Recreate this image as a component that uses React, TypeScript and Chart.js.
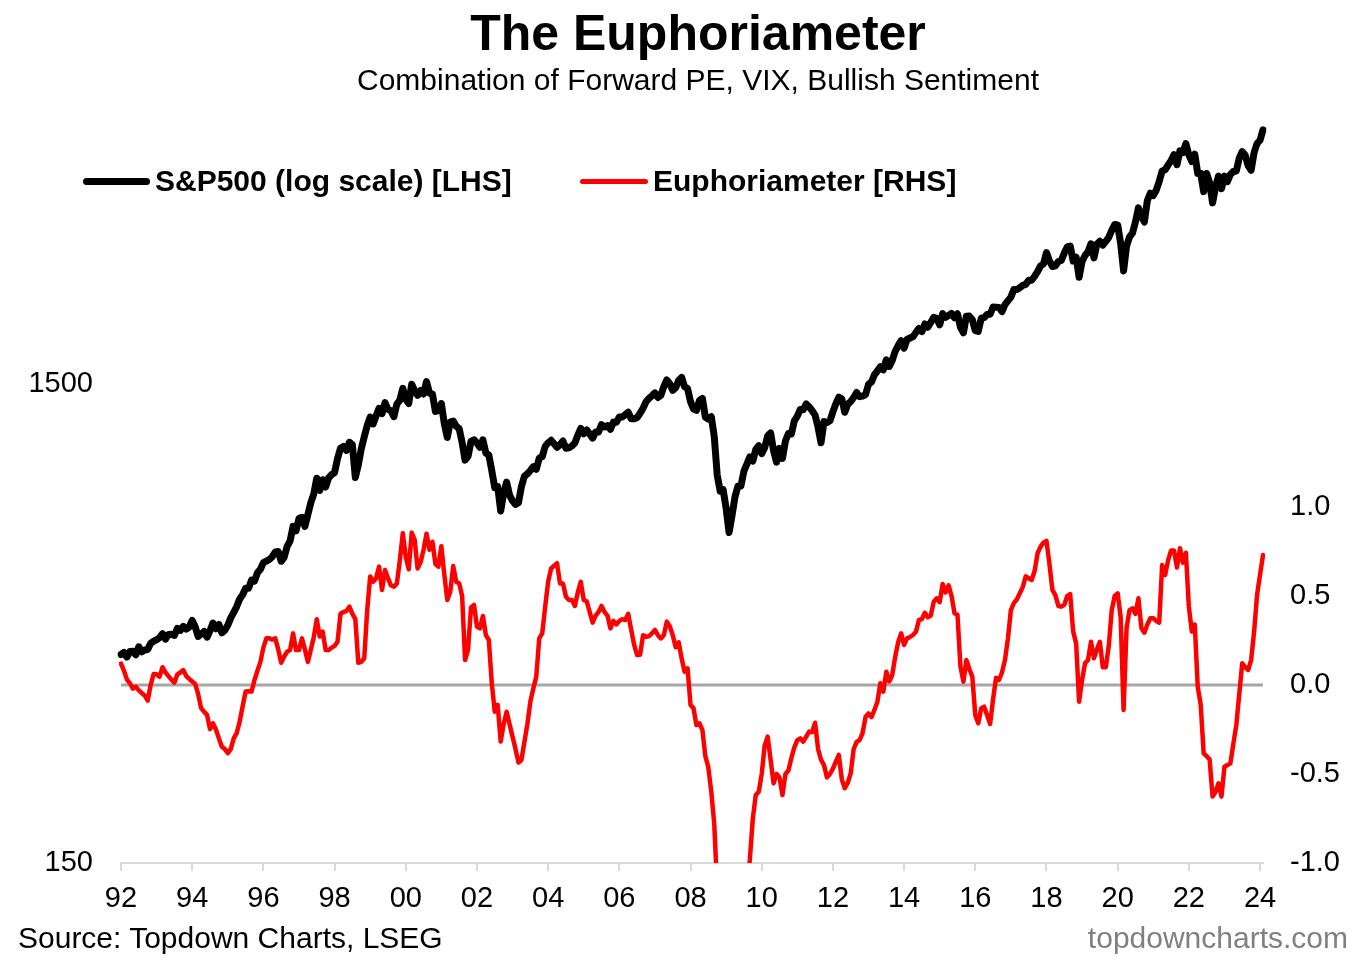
import React, { useEffect, useRef } from 'react';
import { Chart, registerables } from 'chart.js';

Chart.register(...registerables);

const FONT = '"Liberation Sans", Arial, Helvetica, sans-serif';

// S&P 500 month-end closes, Jan 1992 .. Feb 2024 (one row per year)
const spx1990s = [
  408.79, 412.70, 403.69, 414.95, 415.35, 408.14, 424.21, 414.03, 417.80, 418.68, 431.35, 435.71,
  438.78, 443.38, 451.67, 440.19, 450.19, 450.53, 448.13, 463.56, 458.93, 467.83, 461.79, 466.45,
  481.61, 467.14, 445.77, 450.91, 456.50, 444.27, 458.26, 475.49, 462.69, 472.35, 453.69, 459.27,
  470.42, 487.39, 500.71, 514.71, 533.40, 544.75, 562.06, 561.88, 584.41, 581.50, 605.37, 615.93,
  636.02, 640.43, 645.50, 654.17, 669.12, 670.63, 639.95, 651.99, 687.33, 705.27, 757.02, 740.74,
  786.16, 790.82, 757.12, 801.34, 848.28, 885.14, 954.29, 899.47, 947.28, 914.62, 955.40, 970.43,
  980.28, 1049.34, 1101.75, 1111.75, 1090.82, 1133.84, 1120.67, 957.28, 1017.01, 1098.67, 1163.63, 1229.23,
  1279.64, 1238.33, 1286.37, 1335.18, 1301.84, 1372.71, 1328.72, 1320.41, 1282.71, 1362.93, 1388.91, 1469.25,
];
const spx2000s = [
  1394.46, 1366.42, 1498.58, 1452.43, 1420.60, 1454.60, 1430.83, 1517.68, 1436.51, 1429.40, 1315.23, 1320.28,
  1366.01, 1239.94, 1160.33, 1249.46, 1255.82, 1224.42, 1211.23, 1133.58, 1040.94, 1059.78, 1139.45, 1148.08,
  1130.20, 1106.73, 1147.39, 1076.92, 1067.14, 989.82, 911.62, 916.07, 815.28, 885.76, 936.31, 879.82,
  855.70, 841.15, 848.18, 916.92, 963.59, 974.50, 990.31, 1008.01, 995.97, 1050.71, 1058.20, 1111.92,
  1131.13, 1144.94, 1126.21, 1107.30, 1120.68, 1140.84, 1101.72, 1104.24, 1114.58, 1130.20, 1173.82, 1211.92,
  1181.27, 1203.60, 1180.59, 1156.85, 1191.50, 1191.33, 1234.18, 1220.33, 1228.81, 1207.01, 1249.48, 1248.29,
  1280.08, 1280.66, 1294.87, 1310.61, 1270.09, 1270.20, 1276.66, 1303.82, 1335.85, 1377.94, 1400.63, 1418.30,
  1438.24, 1406.82, 1420.86, 1482.37, 1530.62, 1503.35, 1455.27, 1473.99, 1526.75, 1549.38, 1481.14, 1468.36,
  1378.55, 1330.63, 1322.70, 1385.59, 1400.38, 1280.00, 1267.38, 1282.83, 1166.36, 968.75, 896.24, 903.25,
  825.88, 735.09, 797.87, 872.81, 919.14, 919.32, 987.48, 1020.62, 1057.08, 1036.19, 1095.63, 1115.10,
];
const spx2010s = [
  1073.87, 1104.49, 1169.43, 1186.69, 1089.41, 1030.71, 1101.60, 1049.33, 1141.20, 1183.26, 1180.55, 1257.64,
  1286.12, 1327.22, 1325.83, 1363.61, 1345.20, 1320.64, 1292.28, 1218.89, 1131.42, 1253.30, 1246.96, 1257.60,
  1312.41, 1365.68, 1408.47, 1397.91, 1310.33, 1362.16, 1379.32, 1406.58, 1440.67, 1412.16, 1416.18, 1426.19,
  1498.11, 1514.68, 1569.19, 1597.57, 1630.74, 1606.28, 1685.73, 1632.97, 1681.55, 1756.54, 1805.81, 1848.36,
  1782.59, 1859.45, 1872.34, 1883.95, 1923.57, 1960.23, 1930.67, 2003.37, 1972.29, 2018.05, 2067.56, 2058.90,
  1994.99, 2104.50, 2067.89, 2085.51, 2107.39, 2063.11, 2103.84, 1972.18, 1920.03, 2079.36, 2080.41, 2043.94,
  1940.24, 1932.23, 2059.74, 2065.30, 2096.95, 2098.86, 2173.60, 2170.95, 2168.27, 2126.15, 2198.81, 2238.83,
  2278.87, 2363.64, 2362.72, 2384.20, 2411.80, 2423.41, 2470.30, 2471.65, 2519.36, 2575.26, 2647.58, 2673.61,
  2823.81, 2713.83, 2640.87, 2648.05, 2705.27, 2718.37, 2816.29, 2901.52, 2913.98, 2711.74, 2760.17, 2506.85,
  2704.10, 2784.49, 2834.40, 2945.83, 2752.06, 2941.76, 2980.38, 2926.46, 2976.74, 3037.56, 3140.98, 3230.78,
];
const spx2020s = [
  3225.52, 2954.22, 2584.59, 2912.43, 3044.31, 3100.29, 3271.12, 3500.31, 3363.00, 3269.96, 3621.63, 3756.07,
  3714.24, 3811.15, 3972.89, 4181.17, 4204.11, 4297.50, 4395.26, 4522.68, 4307.54, 4605.38, 4567.00, 4766.18,
  4515.55, 4373.94, 4530.41, 4131.93, 4132.15, 3785.38, 4130.29, 3955.00, 3585.62, 3871.98, 4080.11, 3839.50,
  4076.60, 3970.15, 4109.31, 4169.48, 4179.83, 4450.38, 4588.96, 4507.66, 4288.05, 4193.80, 4567.80, 4769.83,
  4845.65, 5096.27,
];

// Euphoriameter (same months)
const euph1990s = [
  0.12, 0.08, 0.03, 0.01, -0.02, -0.01, -0.03, -0.045, -0.06, -0.088, 0.0, 0.062,
  0.06, 0.047, 0.10, 0.07, 0.05, 0.03, 0.013, 0.06, 0.07, 0.084, 0.05, 0.034,
  0.02, 0.006, -0.05, -0.13, -0.15, -0.168, -0.248, -0.215, -0.25, -0.30, -0.347, -0.36,
  -0.383, -0.36, -0.30, -0.27, -0.206, -0.12, -0.037, -0.035, -0.037, 0.028, 0.08, 0.13,
  0.21, 0.262, 0.262, 0.255, 0.262, 0.20, 0.125, 0.16, 0.187, 0.196, 0.29, 0.196,
  0.196, 0.262, 0.20, 0.13, 0.20, 0.27, 0.369, 0.272, 0.30, 0.196, 0.196, 0.21,
  0.22, 0.243, 0.40, 0.41, 0.416, 0.44, 0.40, 0.37, 0.125, 0.13, 0.15, 0.42,
  0.61, 0.58, 0.60, 0.665, 0.534, 0.646, 0.60, 0.56, 0.552, 0.57, 0.70, 0.852,
];
const euph2000s = [
  0.72, 0.65, 0.856, 0.815, 0.655, 0.69, 0.76, 0.85, 0.76, 0.805, 0.68, 0.665,
  0.78, 0.62, 0.478, 0.524, 0.668, 0.58, 0.571, 0.50, 0.14, 0.20, 0.436, 0.45,
  0.328, 0.318, 0.388, 0.28, 0.253, 0.01, -0.15, -0.112, -0.318, -0.22, -0.15, -0.22,
  -0.29, -0.36, -0.436, -0.42, -0.32, -0.22, -0.094, -0.02, 0.047, 0.262, 0.29, 0.44,
  0.58, 0.655, 0.67, 0.684, 0.57, 0.57, 0.496, 0.478, 0.478, 0.444, 0.52, 0.58,
  0.478, 0.47, 0.41, 0.35, 0.39, 0.41, 0.444, 0.41, 0.39, 0.318, 0.36, 0.34,
  0.36, 0.37, 0.365, 0.40, 0.31, 0.225, 0.168, 0.17, 0.28, 0.27, 0.275, 0.29,
  0.309, 0.28, 0.262, 0.28, 0.356, 0.33, 0.28, 0.212, 0.24, 0.15, 0.075, 0.094,
  -0.112, -0.13, -0.225, -0.215, -0.253, -0.40, -0.463, -0.60, -0.78, -1.15, -1.5, -1.8,
  -2.0, -2.1, -2.0, -1.85, -1.65, -1.45, -1.3, -1.15, -0.98, -0.75, -0.618, -0.60,
];
const euph2010s = [
  -0.50, -0.34, -0.29, -0.42, -0.552, -0.50, -0.52, -0.618, -0.50, -0.48, -0.41, -0.35,
  -0.31, -0.30, -0.318, -0.29, -0.262, -0.265, -0.212, -0.36, -0.42, -0.45, -0.519, -0.50,
  -0.47, -0.43, -0.393, -0.53, -0.58, -0.55, -0.496, -0.36, -0.32, -0.31, -0.27, -0.18,
  -0.16, -0.18, -0.14, -0.094, 0.01, -0.037, 0.075, 0.02, 0.056, 0.159, 0.24, 0.29,
  0.225, 0.262, 0.27, 0.28, 0.30, 0.365, 0.37, 0.406, 0.38, 0.39, 0.468, 0.487,
  0.465, 0.567, 0.52, 0.56, 0.50, 0.403, 0.395, 0.103, 0.019, 0.14, 0.09, 0.047,
  -0.17, -0.215, -0.131, -0.122, -0.17, -0.219, -0.08, 0.04, 0.028, 0.07, 0.14, 0.26,
  0.42, 0.46, 0.48, 0.515, 0.55, 0.61, 0.60, 0.59, 0.64, 0.74, 0.777, 0.80,
  0.81, 0.68, 0.534, 0.505, 0.444, 0.44, 0.45, 0.50, 0.51, 0.30, 0.234, -0.094,
  0.028, 0.122, 0.14, 0.243, 0.15, 0.20, 0.243, 0.10, 0.10, 0.22, 0.42, 0.50,
];
const euph2020s = [
  0.515, 0.384, -0.14, 0.32, 0.42, 0.43, 0.40, 0.487, 0.32, 0.294, 0.34, 0.375,
  0.375, 0.36, 0.35, 0.674, 0.618, 0.70, 0.755, 0.755, 0.66, 0.768, 0.687, 0.743,
  0.44, 0.30, 0.34, -0.01, -0.112, -0.384, -0.40, -0.418, -0.627, -0.60, -0.552, -0.627,
  -0.459, -0.45, -0.44, -0.33, -0.225, -0.05, 0.122, 0.10, 0.084, 0.14, 0.30, 0.506,
  0.62, 0.73,
];

const sp500 = [...spx1990s, ...spx2000s, ...spx2010s, ...spx2020s];
const euphoriameter = [...euph1990s, ...euph2000s, ...euph2010s, ...euph2020s];

const firstYear = 1992;
const months = sp500.map((_, i) => {
  const y = firstYear + Math.floor(i / 12);
  const m = (i % 12) + 1;
  return `${y}-${m < 10 ? '0' + m : m}`;
});

const leftTicks = [150, 1500];
const rightTicks = [-1, -0.5, 0, 0.5, 1];

const zeroLine = {
  id: 'zeroLine',
  beforeDatasetsDraw(chart: any) {
    const { ctx, chartArea, scales } = chart;
    const y = scales.y1.getPixelForValue(0);
    ctx.save();
    ctx.strokeStyle = '#a6a6a6';
    ctx.lineWidth = 3;
    ctx.beginPath();
    ctx.moveTo(chartArea.left, y);
    ctx.lineTo(chartArea.right, y);
    ctx.stroke();
    ctx.restore();
  },
};

const App: React.FC = () => {
  const chartRef = useRef<HTMLCanvasElement | null>(null);

  useEffect(() => {
    const ctx = chartRef.current?.getContext('2d');
    if (!ctx) return;

    const tickFont = { family: FONT, size: 29 };

    const chart = new Chart(ctx, {
      type: 'line',
      data: {
        labels: months,
        datasets: [
          {
            label: 'S&P500 (log scale) [LHS]',
            data: sp500,
            yAxisID: 'y',
            borderColor: '#000000',
            borderWidth: 7,
            pointRadius: 0,
            tension: 0,
            borderJoinStyle: 'round',
            borderCapStyle: 'round',
          },
          {
            label: 'Euphoriameter [RHS]',
            data: euphoriameter,
            yAxisID: 'y1',
            borderColor: '#ff0000',
            borderWidth: 4.5,
            pointRadius: 0,
            tension: 0,
            borderJoinStyle: 'round',
            borderCapStyle: 'round',
          },
        ],
      },
      options: {
        animation: false,
        responsive: true,
        maintainAspectRatio: false,
        layout: { padding: { top: 110, left: 0, right: 0, bottom: 0 } },
        plugins: {
          legend: { display: false },
          tooltip: { enabled: false },
        },
        scales: {
          x: {
            type: 'category',
            position: 'bottom',
            afterFit: (s: any) => { s.height = 97; },
            afterBuildTicks: (s: any) => {
              s.ticks = s.ticks.filter((t: any) => t.value % 24 === 0);
            },
            grid: {
              display: true,
              drawOnChartArea: false,
              drawTicks: true,
              tickLength: 8,
              color: '#d9d9d9',
              lineWidth: 2,
            },
            border: { display: true, color: '#d9d9d9', width: 2 },
            ticks: {
              autoSkip: false,
              maxRotation: 0,
              padding: 11,
              color: '#000000',
              font: tickFont,
              callback: (v: any) => months[v].slice(2, 4),
            },
          },
          y: {
            type: 'logarithmic',
            position: 'left',
            min: 150,
            max: 5604,
            afterFit: (s: any) => { s.width = 121; },
            afterBuildTicks: (s: any) => {
              s.ticks = leftTicks.map((value) => ({ value }));
            },
            grid: { display: false, drawTicks: false },
            border: { display: false },
            ticks: {
              padding: 28,
              color: '#000000',
              font: tickFont,
              callback: (v: any) => String(v),
            },
          },
          y1: {
            type: 'linear',
            position: 'right',
            min: -1,
            max: 3.2303,
            afterFit: (s: any) => { s.width = 102; },
            afterBuildTicks: (s: any) => {
              s.ticks = rightTicks.map((value) => ({ value }));
            },
            grid: { display: false, drawTicks: false },
            border: { display: false },
            ticks: {
              padding: 27,
              color: '#000000',
              font: tickFont,
              callback: (v: any) => Number(v).toFixed(1),
            },
          },
        },
      },
      plugins: [zeroLine],
    });

    return () => {
      chart.destroy();
    };
  }, []);

  const text: React.CSSProperties = {
    position: 'absolute',
    fontFamily: FONT,
    whiteSpace: 'nowrap',
    color: '#000000',
    margin: 0,
  };

  return (
    <div style={{ position: 'absolute', left: 0, top: 0, width: 1365, height: 960, background: '#ffffff', overflow: 'hidden' }}>
      <div style={{ position: 'absolute', left: 0, top: 0, width: 1365, height: 960 }}>
        <canvas ref={chartRef}></canvas>
      </div>
      <div style={{ ...text, left: 698, top: 8, transform: 'translateX(-50%)', fontSize: 50, lineHeight: '50px', fontWeight: 'bold' }}>
        The Euphoriameter
      </div>
      <div style={{ ...text, left: 698, top: 65, transform: 'translateX(-50%)', fontSize: 30, lineHeight: '30px' }}>
        Combination of Forward PE, VIX, Bullish Sentiment
      </div>
      <div style={{ position: 'absolute', left: 83, top: 178, width: 67, height: 7, borderRadius: 4, background: '#000000' }} />
      <div style={{ ...text, left: 155, top: 166, fontSize: 30, lineHeight: '30px', fontWeight: 'bold' }}>
        S&amp;P500 (log scale) [LHS]
      </div>
      <div style={{ position: 'absolute', left: 580, top: 179, width: 68, height: 5, borderRadius: 3, background: '#ff0000' }} />
      <div style={{ ...text, left: 653, top: 166, fontSize: 30, lineHeight: '30px', fontWeight: 'bold' }}>
        Euphoriameter [RHS]
      </div>
      <div style={{ ...text, left: 18, top: 923, fontSize: 30, lineHeight: '30px' }}>
        Source: Topdown Charts, LSEG
      </div>
      <div style={{ ...text, right: 17, top: 923, fontSize: 30, lineHeight: '30px', color: '#808080' }}>
        topdowncharts.com
      </div>
    </div>
  );
};

export default App;
